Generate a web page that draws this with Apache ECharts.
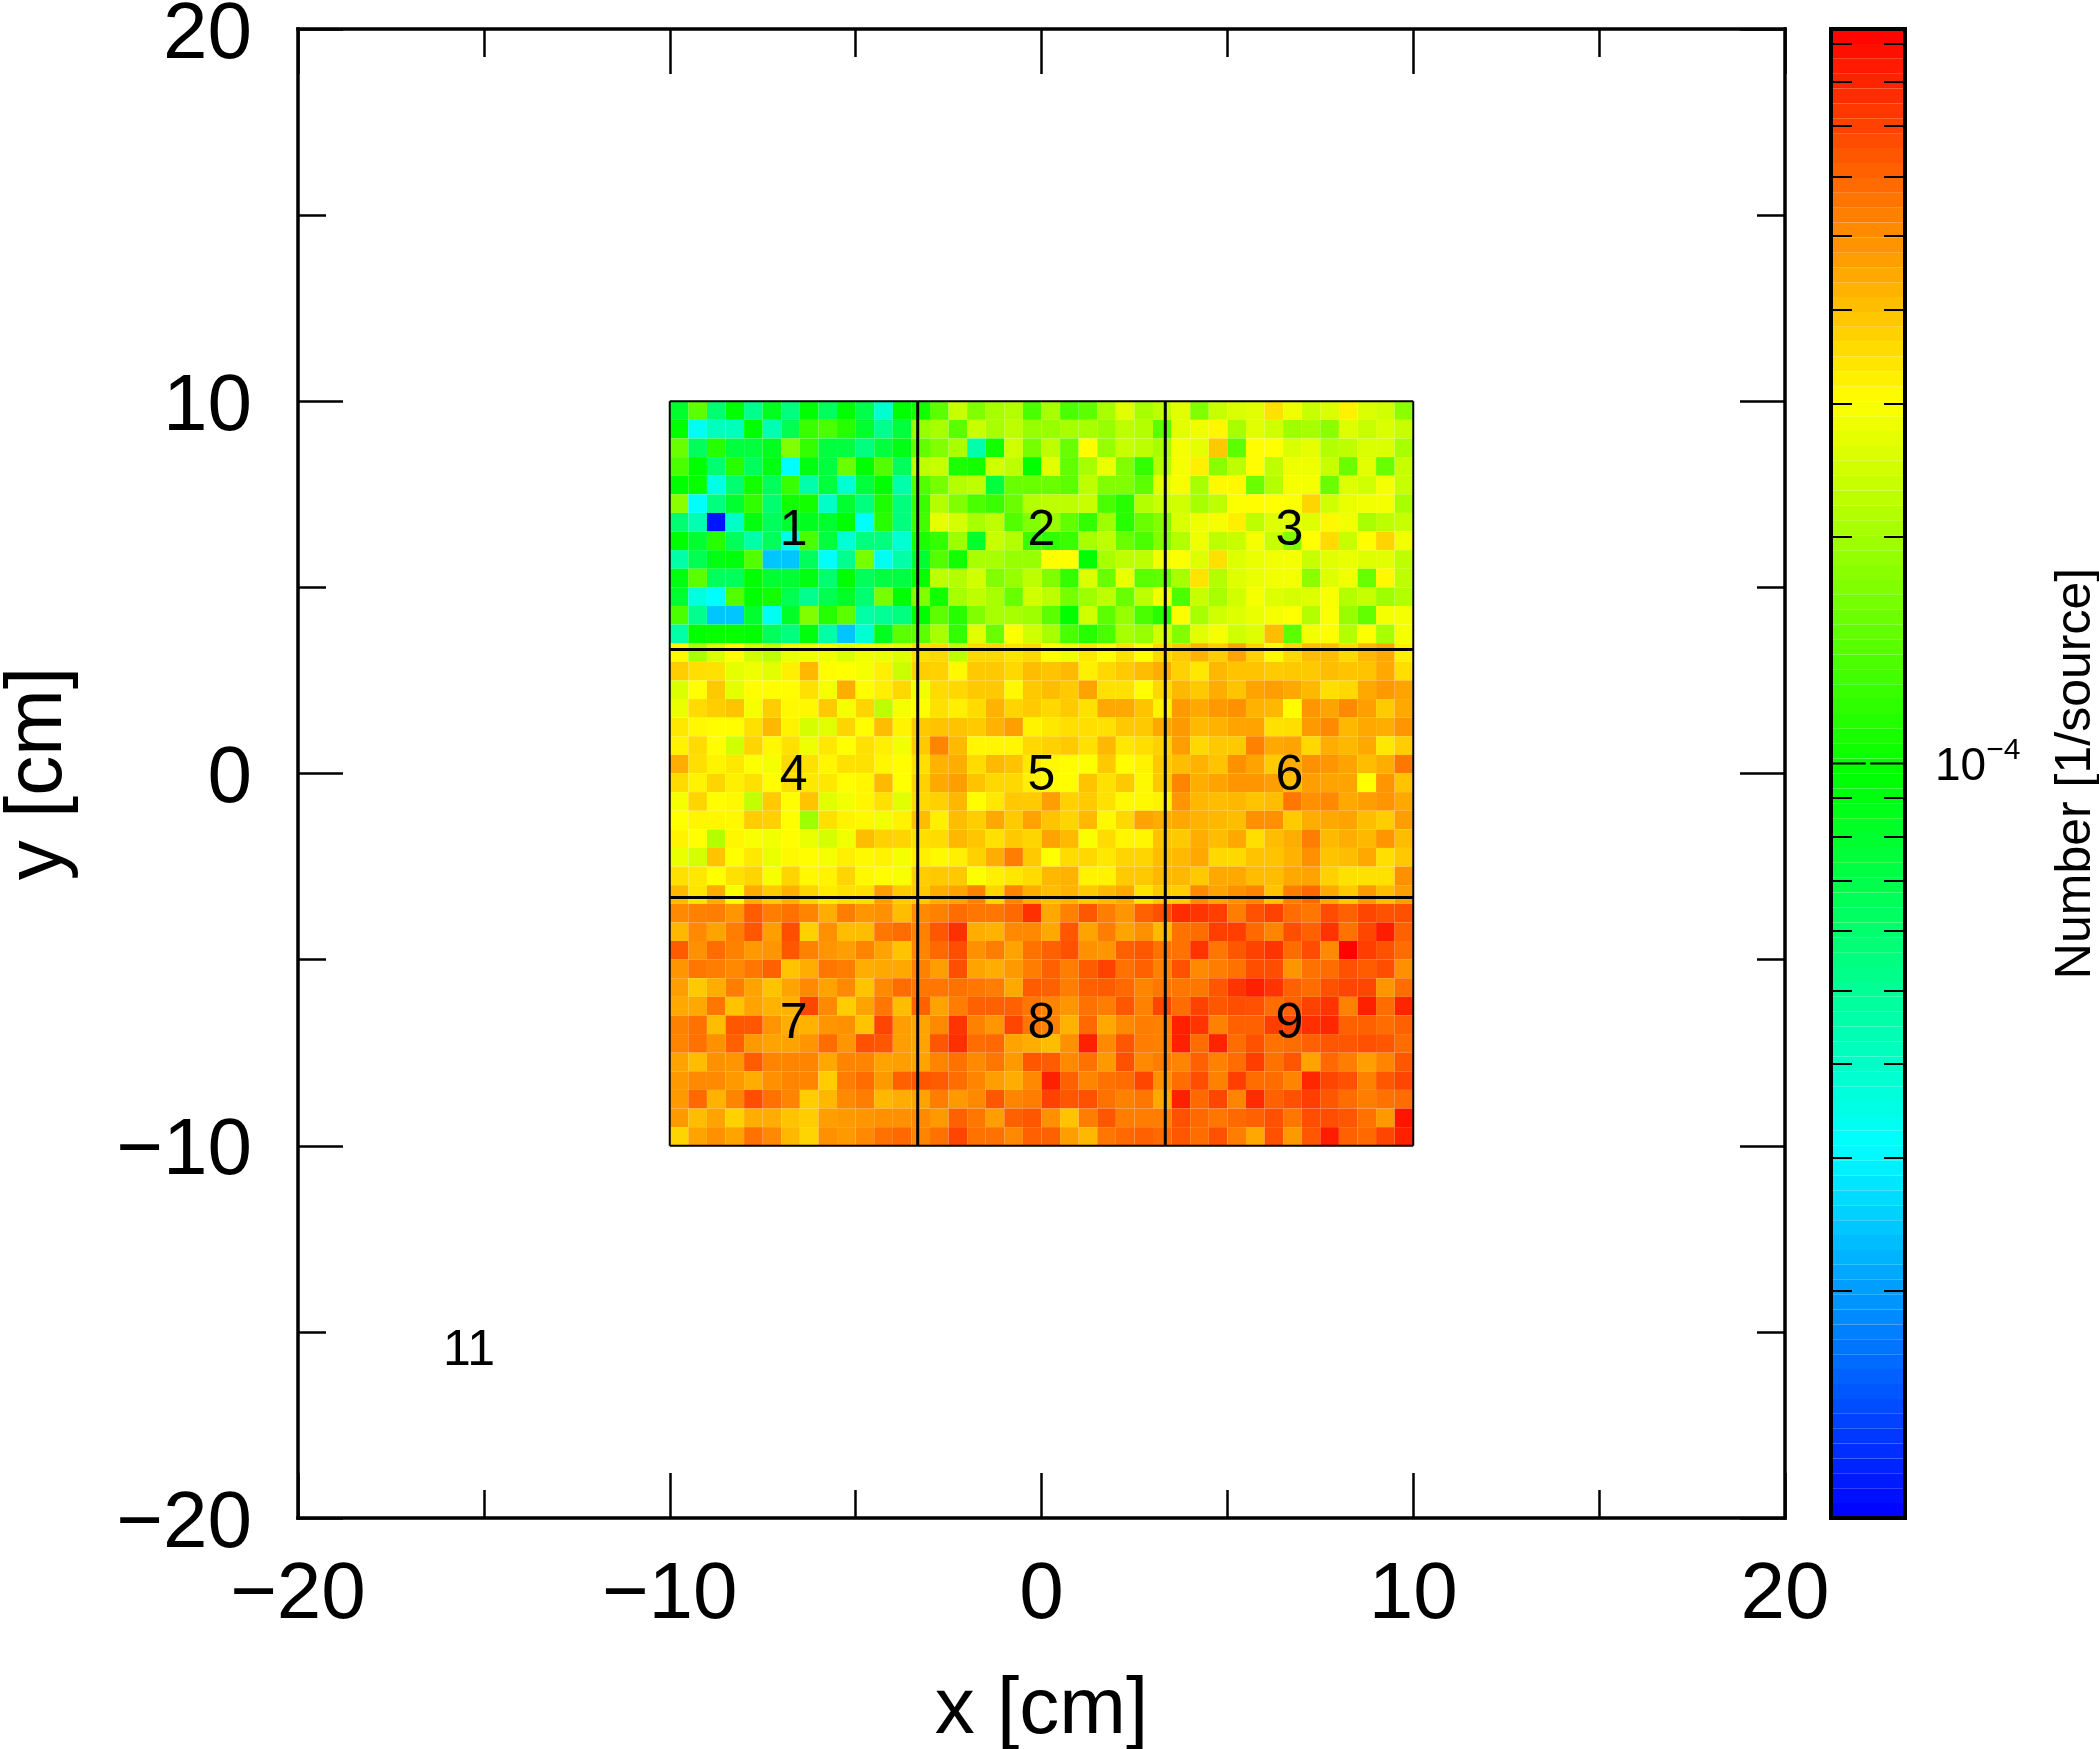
<!DOCTYPE html>
<html><head><meta charset="utf-8">
<style>html,body{margin:0;padding:0;background:#fff}#c{width:2099px;height:1749px}</style>
<script src="https://cdn.jsdelivr.net/npm/echarts@6/dist/echarts.min.js"></script>
</head><body><div id="c"></div>
<script>
// cell values in units of 1e-6 per source; rows run from y=+10 down to y=-10, columns from x=-10 to x=+10
const row00=[80,146,59,97,52,85,55,97,65,97,70,39,97,105,146,235,172,205,215,135,205,135,146,205,265,205,225,265,172,235,255,265,345,282,235,255,320,255,245,180];
const row01=[97,33,42,42,95,44,68,125,135,115,78,52,74,190,205,146,235,205,225,190,190,205,205,190,225,215,146,265,282,315,205,265,245,195,205,180,260,235,255,235];
const row02=[155,65,115,74,74,85,172,122,74,74,55,74,88,150,172,205,45,105,245,165,225,155,305,190,235,225,205,290,270,385,146,305,302,255,270,215,225,255,255,205];
const row03=[135,97,59,115,65,90,31,90,74,155,97,140,65,225,235,110,105,245,225,97,265,150,205,275,172,122,215,290,325,180,225,305,225,282,282,235,155,265,155,235];
const row04=[97,100,35,59,105,65,125,45,74,38,74,97,45,140,165,215,225,74,155,155,155,146,225,172,172,146,265,290,205,310,312,155,215,290,290,155,260,245,290,235];
const row05=[180,32,55,78,120,59,105,105,40,78,55,110,55,125,215,172,135,125,155,215,225,225,235,135,115,215,235,245,205,225,298,305,302,298,365,245,275,285,290,205];
const row06=[59,44,11,40,90,65,78,85,78,97,32,115,55,130,270,250,205,225,140,172,190,150,122,195,115,155,172,255,282,290,325,225,260,265,260,312,285,205,225,235];
const row07=[97,78,115,65,46,65,35,135,74,38,55,55,38,110,122,195,80,235,215,125,120,125,205,225,155,135,172,215,282,225,235,290,235,175,302,355,235,305,365,285];
const row08=[46,68,90,92,140,24,24,65,32,52,165,33,46,78,140,105,205,205,190,190,300,300,97,205,225,225,285,298,260,345,260,275,285,290,235,265,275,260,265,225];
const row09=[90,146,65,65,95,78,78,90,59,95,65,72,72,100,225,215,245,172,190,225,172,122,255,155,275,146,150,205,340,215,260,275,285,290,180,260,285,155,312,225];
const row10=[78,36,31,140,97,105,68,52,68,82,59,165,95,172,105,205,225,205,155,245,225,165,195,225,155,225,285,135,235,205,245,290,260,250,260,295,215,235,195,215];
const row11=[135,52,24,24,78,33,82,172,115,146,46,50,55,97,146,115,172,205,205,195,146,97,245,146,190,135,115,295,205,245,260,275,290,302,215,298,190,150,290,290];
const row12=[46,97,100,100,97,65,55,92,46,24,38,85,146,146,205,122,265,155,298,245,205,135,115,135,205,190,245,172,265,290,245,260,405,146,285,300,215,300,205,290];
const row13=[310,205,255,305,245,225,275,285,282,255,280,275,260,350,360,225,360,360,340,360,300,280,335,300,345,300,360,385,425,378,455,370,310,360,405,405,360,415,445,325];
const row14=[378,350,345,270,280,265,325,415,305,302,290,325,240,375,370,310,385,385,360,405,395,410,325,360,380,405,435,370,335,415,395,395,380,385,385,405,395,395,445,350];
const row15=[255,302,385,270,305,305,305,345,290,435,305,325,360,285,355,360,385,385,310,385,405,380,455,345,345,305,360,415,385,435,395,455,465,445,415,350,360,445,475,455];
const row16=[275,355,378,395,290,378,312,312,380,290,365,225,290,300,345,325,355,425,365,380,360,380,345,445,445,395,318,475,445,475,495,425,415,305,485,455,510,465,380,445];
const row17=[335,312,305,305,345,415,318,250,265,365,305,405,318,385,395,395,380,425,465,318,335,350,350,345,385,385,445,475,410,425,455,455,345,350,475,510,415,445,435,485];
const row18=[318,355,305,245,365,312,345,280,335,302,345,325,285,385,520,410,315,315,315,360,370,380,345,415,335,350,370,465,360,385,385,530,445,455,360,435,415,445,335,378];
const row19=[435,350,318,335,300,290,360,345,315,345,345,315,305,350,425,435,355,410,395,335,312,305,298,385,305,318,385,405,425,395,495,455,380,440,495,485,455,405,435,555];
const row20=[355,318,365,325,345,305,350,335,335,305,315,410,302,370,445,465,395,360,360,325,305,305,395,345,385,310,385,520,435,455,485,485,465,405,465,455,455,302,485,395];
const row21=[290,365,305,310,230,380,305,395,265,285,315,345,265,360,370,415,305,335,385,380,465,370,380,345,310,310,318,485,415,405,415,395,405,555,495,510,445,465,485,445];
const row22=[302,315,315,310,378,370,305,195,345,318,310,285,318,405,325,405,378,445,380,455,395,365,410,310,360,455,435,445,425,415,405,495,495,380,435,445,455,405,378,465];
const row23=[318,302,215,315,295,285,305,275,250,285,405,370,365,350,355,415,390,345,385,365,455,410,295,355,315,315,395,385,435,405,445,350,405,435,540,410,435,415,485,405];
const row24=[275,250,395,302,335,275,310,305,290,325,310,318,290,325,310,325,370,435,540,385,302,355,360,335,365,365,405,410,445,360,360,395,395,425,495,395,405,445,350,385];
const row25=[345,335,302,345,365,290,365,312,318,365,310,305,292,378,385,385,300,325,335,355,415,425,318,318,380,385,415,415,385,445,445,405,405,445,455,370,345,345,345,495];
const row26=[410,340,440,295,440,380,430,365,330,345,345,470,380,385,440,455,530,365,520,435,405,425,385,415,445,340,385,378,510,455,495,520,395,540,590,445,385,475,405,465];
const row27=[510,530,540,485,625,540,565,520,435,540,485,495,405,510,530,580,555,555,590,760,445,530,640,540,485,610,660,775,745,715,540,655,700,580,555,670,610,690,655,660];
const row28=[415,510,455,540,640,465,665,370,495,405,405,555,580,530,640,760,435,425,510,510,445,640,455,540,455,495,410,565,580,715,715,590,520,665,610,745,565,690,825,610];
const row29=[625,495,580,530,475,485,640,530,485,465,520,455,395,520,590,665,495,540,455,565,610,655,495,485,610,640,565,565,745,555,640,700,745,580,670,510,930,715,655,580];
const row30=[485,555,540,510,555,610,395,435,555,540,435,445,445,530,465,665,455,435,475,540,610,540,625,700,565,610,530,655,510,540,565,665,665,485,565,580,655,625,665,495];
const row31=[465,385,435,540,455,395,455,510,455,510,395,510,580,555,555,565,555,540,445,625,610,540,610,625,590,520,555,555,555,640,745,815,745,610,580,655,690,690,485,580];
const row32=[445,445,555,395,455,425,425,690,510,378,455,555,405,610,455,540,610,610,610,555,520,485,565,540,640,530,690,580,700,640,665,655,580,610,700,745,530,815,580,800];
const row33=[530,565,405,640,640,485,435,425,485,495,395,690,465,455,510,745,530,485,690,555,530,425,590,445,510,540,530,815,745,530,610,610,715,690,760,790,610,610,580,610];
const row34=[520,565,495,610,475,455,455,485,580,485,655,640,465,455,640,760,580,590,455,435,405,495,815,510,640,540,530,815,580,800,580,655,565,580,610,640,640,655,640,580];
const row35=[455,405,495,485,625,520,520,520,445,520,520,455,465,455,520,565,510,555,475,640,625,510,565,475,655,510,540,520,610,530,580,715,565,640,455,590,540,465,520,640];
const row36=[475,510,510,475,435,495,520,520,378,540,580,475,610,640,625,580,520,465,435,510,815,610,520,565,580,690,495,580,665,530,715,580,580,520,790,690,655,530,640,690];
const row37=[475,590,425,520,665,565,520,378,415,510,540,415,435,455,540,475,510,640,520,540,700,640,655,565,530,555,445,815,590,690,520,775,610,655,715,640,580,540,565,580];
const row38=[475,405,455,370,435,435,395,378,465,475,485,495,495,510,475,610,555,465,610,640,495,395,540,640,540,540,540,655,590,555,590,610,655,555,665,665,640,565,475,860];
const row39=[365,455,495,455,565,510,415,365,495,475,510,565,590,520,565,690,565,565,510,610,610,465,415,555,590,610,590,640,580,655,540,445,655,475,640,825,610,590,690,815];

const zoneLabels=['1','2','3','4','5','6','7','8','9','11'];
const zoneX=[-6.67,0,6.67,-6.67,0,6.67,-6.67,0,6.67,-15.4];
const zoneY=[6.6,6.6,6.6,0,0,0,-6.65,-6.65,-6.65,-15.45];
const innerLines=[[-10,3.33,10,3.33],[-10,-3.33,10,-3.33],[-3.33,-10,-3.33,10],[3.33,-10,3.33,10]];
const outerLines=[[-10,10,10,10],[-10,-10,10,-10],[-10,-10,-10,10],[10,-10,10,10]];
const colorLogMin=-5, colorLogMax=-3.0265;
const colorbarMinorTicks=[2,3,4,5,6,7,8,9].map(k=>Math.log10(k*1e-5)).concat([2,3,4,5,6,7,8,9].map(k=>Math.log10(k*1e-4)));
const colorbarMajorTick=[-4];
const colorbarBands=100;

const cellRows=[row00,row01,row02,row03,row04,row05,row06,row07,row08,row09,row10,row11,row12,row13,row14,row15,row16,row17,row18,row19,row20,row21,row22,row23,row24,row25,row26,row27,row28,row29,row30,row31,row32,row33,row34,row35,row36,row37,row38,row39];
const cellData=[];
cellRows.forEach((r,i)=>r.forEach((v,j)=>{
  cellData.push([-10+0.5*j,-10+0.5*(j+1),10-0.5*(i+1),10-0.5*i,Math.log10(v*1e-6)]);
}));
const bandData=[];
for(let b=0;b<colorbarBands;b++){
  const lo=colorLogMin+(colorLogMax-colorLogMin)*b/colorbarBands, hi=colorLogMin+(colorLogMax-colorLogMin)*(b+1)/colorbarBands;
  bandData.push([0,1,lo,hi,(lo+hi)/2]);
}
const majorTickData=[];
colorbarMajorTick.forEach(v=>{majorTickData.push([0,v,0.47,v]);majorTickData.push([0.53,v,1,v]);});
function rectItem(params,api){
  const a=api.coord([api.value(0),api.value(3)]), b=api.coord([api.value(1),api.value(2)]);
  return {type:'rect',shape:{x:a[0],y:a[1],width:b[0]-a[0],height:b[1]-a[1]},style:{fill:api.visual('color'),stroke:null}};
}
function lineItem(w){return function(params,api){
  const a=api.coord([api.value(0),api.value(1)]), b=api.coord([api.value(2),api.value(3)]);
  return {type:'line',shape:{x1:a[0],y1:a[1],x2:b[0],y2:b[1]},style:{stroke:'#000',lineWidth:w,lineCap:'butt'}};
};}
const FONT='Liberation Sans';
const fmt=v=>String(v).replace('-','\u2212');
const mainLine={show:true,onZero:false,lineStyle:{color:'#000',width:3.5,cap:'square'}};
const mainTick={show:true,inside:true,length:45,lineStyle:{color:'#000',width:2.5}};
const mainMinor={show:true,splitNumber:2,length:28,lineStyle:{color:'#000',width:2.5}};
function mainAxis(pos,idx,extra){return Object.assign({type:'value',gridIndex:0,position:pos,min:-20,max:20,interval:10,
  axisLine:mainLine,axisTick:mainTick,minorTick:mainMinor,splitLine:{show:false},minorSplitLine:{show:false},axisLabel:{show:false}},extra||{});}
const labelStyle={show:true,color:'#000',fontFamily:FONT,fontSize:80,formatter:fmt};
const barLine={show:true,onZero:false,lineStyle:{color:'#000',width:4,cap:'square'}};
function barY(pos,ticks,len,extra){return Object.assign({type:'value',gridIndex:1,position:pos,min:colorLogMin,max:colorLogMax,z:6,
  axisLine:barLine,axisTick:{show:true,inside:true,length:len,customValues:ticks,lineStyle:{color:'#000',width:2}},
  splitLine:{show:false},axisLabel:{show:false}},extra||{});}

const chart=echarts.init(document.getElementById('c'),null,{renderer:'canvas'});
chart.setOption({
  animation:false,backgroundColor:'#fff',
  textStyle:{fontFamily:FONT},
  grid:[{left:298,top:29,width:1487,height:1489,containLabel:false,outerBoundsMode:'none'},{left:1831,top:29,width:74,height:1489,containLabel:false,outerBoundsMode:'none'}],
  xAxis:[
    mainAxis('bottom',0,{axisLabel:Object.assign({},labelStyle,{margin:38}),name:'x [cm]',nameLocation:'middle',nameGap:153,nameTextStyle:{fontFamily:FONT,fontSize:80,color:'#000'}}),
    mainAxis('top',1),
    {type:'value',gridIndex:1,position:'bottom',min:0,max:1,z:6,axisLine:barLine,axisTick:{show:false},axisLabel:{show:false},splitLine:{show:false}},
    {type:'value',gridIndex:1,position:'top',min:0,max:1,z:6,axisLine:barLine,axisTick:{show:false},axisLabel:{show:false},splitLine:{show:false}}
  ],
  yAxis:[
    mainAxis('left',0,{axisLabel:{show:true,margin:46,padding:[13,0,0,0],color:'#000',fontFamily:FONT,
        formatter:v=>'{n|'+fmt(v)+'}',rich:{n:{fontFamily:FONT,fontSize:80,color:'#000'}}},
      name:'y [cm]',nameLocation:'middle',nameGap:219,nameRotate:90,nameTextStyle:{fontFamily:FONT,fontSize:80,color:'#000'}}),
    mainAxis('right',1),
    barY('left',colorbarMinorTicks,21),
    barY('right',colorbarMinorTicks,21,{
      name:'Number [1/source]',nameLocation:'middle',nameGap:146,nameRotate:90,nameTextStyle:{fontFamily:FONT,fontSize:50,color:'#000'},
      axisLabel:{show:true,margin:30,customValues:[-4],color:'#000',fontFamily:FONT,padding:[8,0,0,0],
        formatter:()=>'{a|10}{b|\u22124}',
        rich:{a:{fontFamily:FONT,fontSize:46,color:'#000'},b:{fontFamily:FONT,fontSize:30,color:'#000',padding:[0,0,34,0]}}}})
  ],
  visualMap:[{show:false,type:'continuous',seriesIndex:[0,4],dimension:4,min:colorLogMin,max:colorLogMax,
    inRange:{color:['#0000ff','#00ffff','#00ff00','#ffff00','#ff0000']}}],
  series:[
    {type:'custom',xAxisIndex:0,yAxisIndex:0,renderItem:rectItem,data:cellData,encode:{x:[0,1],y:[2,3]},z:2,silent:true},
    {type:'custom',xAxisIndex:0,yAxisIndex:0,renderItem:lineItem(2),data:outerLines,encode:{x:[0,2],y:[1,3]},z:3,silent:true},
    {type:'custom',xAxisIndex:0,yAxisIndex:0,renderItem:lineItem(3),data:innerLines,encode:{x:[0,2],y:[1,3]},z:3,silent:true},
    {type:'scatter',xAxisIndex:0,yAxisIndex:0,symbolSize:0,z:4,silent:true,itemStyle:{opacity:1},
      data:zoneLabels.map((t,i)=>({value:[zoneX[i],zoneY[i]],label:{formatter:t}})),
      label:{show:true,position:'inside',offset:[0,3],color:'#000',opacity:1,fontFamily:FONT,fontSize:50}},
    {type:'custom',xAxisIndex:2,yAxisIndex:2,renderItem:rectItem,data:bandData,encode:{x:[0,1],y:[2,3]},z:2,silent:true},
    {type:'custom',xAxisIndex:2,yAxisIndex:2,renderItem:lineItem(2),data:majorTickData,encode:{x:[0,2],y:[1,3]},z:7,silent:true}
  ]
});
</script></body></html>
